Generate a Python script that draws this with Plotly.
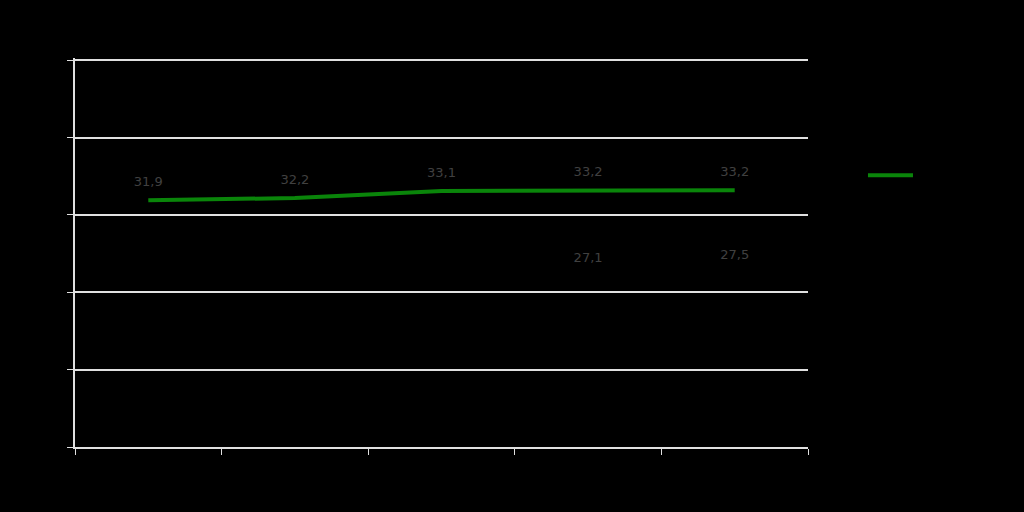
import plotly.graph_objects as go

# Datos
categories = ['2006', '2007', '2008', '2009', '2010']
serie_a = [31.9, 32.2, 33.1, 33.2, 33.2]
serie_b = [None, None, None, 27.1, 27.5]
y_ticks = [0, 10, 20, 30, 40, 50]

fig = go.Figure()

# Serie verde con etiquetas encima
fig.add_trace(go.Scatter(
    x=categories,
    y=serie_a,
    mode='lines+markers+text',
    name='Serie A',
    line=dict(color='#0a850a', width=4),
    marker=dict(size=16, color='rgba(0,0,0,0)'),
    text=[f'{v:.1f}'.replace('.', ',') for v in serie_a],
    textposition='top center',
    textfont=dict(color='#404040', size=13),
    cliponaxis=False
))

# Serie negra (invisible sobre fondo negro) con etiquetas debajo
fig.add_trace(go.Scatter(
    x=categories,
    y=serie_b,
    mode='lines+markers+text',
    name='Serie B',
    line=dict(color='#000000', width=4),
    marker=dict(size=22, color='rgba(0,0,0,0)'),
    text=['' if v is None else f'{v:.1f}'.replace('.', ',') for v in serie_b],
    textposition='bottom center',
    textfont=dict(color='#404040', size=13),
    cliponaxis=False
))

fig.update_layout(
    width=1024,
    height=512,
    paper_bgcolor='#000000',
    plot_bgcolor='#000000',
    font=dict(family='DejaVu Sans', color='#000000', size=13),
    margin=dict(l=75, r=216, t=58, b=65),
    separators=',.',
    showlegend=True,
    legend=dict(
        x=1.075, y=0.737, xanchor='left', yanchor='top',
        bgcolor='rgba(0,0,0,0)',
        itemwidth=45,
        font=dict(color='#000000', size=13)
    )
)

fig.update_xaxes(
    type='category',
    range=[-0.5, 4.5],
    showgrid=False,
    showline=True,
    linecolor='#e0e0e0',
    linewidth=1.5,
    ticks='outside',
    tickson='boundaries',
    ticklen=6,
    tickcolor='#e0e0e0',
    tickfont=dict(color='#000000')
)

fig.update_yaxes(
    range=[0, 50.3],
    tickvals=y_ticks,
    showgrid=True,
    gridcolor='#e0e0e0',
    gridwidth=1.5,
    zeroline=False,
    showline=True,
    linecolor='#e0e0e0',
    linewidth=1.5,
    ticks='outside',
    ticklen=6,
    tickcolor='#e0e0e0',
    tickfont=dict(color='#000000')
)

fig.write_html('out.html', config={'displayModeBar': False},
               post_script="document.body.style.margin='0';")
